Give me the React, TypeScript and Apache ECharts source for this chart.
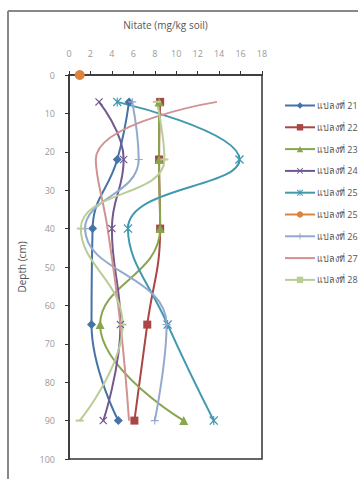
import React, { useEffect, useRef } from "react";
import * as echarts from "echarts";

const depths = [7, 22, 40, 65, 90];
const seriesNames = [
  "แปลงที่ 21",
  "แปลงที่ 22",
  "แปลงที่ 23",
  "แปลงที่ 24",
  "แปลงที่ 25",
  "แปลงที่ 25#b",
  "แปลงที่ 26",
  "แปลงที่ 27",
  "แปลงที่ 28",
];
const plot21 = [5.6, 4.5, 2.2, 2.1, 4.6];
const plot22 = [8.5, 8.4, 8.5, 7.3, 6.1];
const plot23 = [8.4, 8.4, 8.5, 2.9, 10.7];
const plot24 = [2.8, 5.1, 4.0, 4.8, 3.2];
const plot25 = [4.5, 15.9, 5.5, 9.2, 13.5];
const plot25bDepth = [0];
const plot25b = [1.0];
const plot26 = [5.9, 6.5, 1.5, 9.1, 8.0];
const plot27 = [13.8, 2.5, 3.6, 4.8, 5.6];
const plot28 = [8.2, 8.9, 1.1, 5.0, 1.0];
const xTicks = [0, 18, 2];
const yTicks = [0, 100, 10];

const colors = ["#4572A7", "#AA4643", "#89A54E", "#71588F", "#4198AF", "#DB843D", "#93A9CF", "#D19392", "#B9CD96"];

const X_SYM = "path://M0,1L1,0L5,4L9,0L10,1L6,5L10,9L9,10L5,6L1,10L0,9L4,5Z";
const STAR_SYM = "path://M0,1L1,0L5,4L9,0L10,1L6,5L10,9L9,10L5,6L1,10L0,9L4,5ZM4.4,0L5.6,0L5.6,10L4.4,10Z";
const PLUS_SYM = "path://M4.3,0H5.7V4.3H10V5.7H5.7V10H4.3V5.7H0V4.3H4.3Z";

function pairs(xs: number[], ys: number[]) {
  return xs.map((v, i) => [v, ys[i]]);
}

export default function App() {
  const ref = useRef<HTMLDivElement>(null);
  useEffect(() => {
    if (!ref.current) return;
    const chart = echarts.init(ref.current, undefined, { renderer: "svg" });
    const font = "'Open Sans', 'Noto Sans', sans-serif";
    const mk = (i: number, vals: number[], ds: number[], symbol: any, size: any, extra: any = {}) => ({
      name: seriesNames[i],
      type: "line",
      smooth: 0.45,
      data: pairs(vals, ds),
      symbol,
      symbolSize: size,
      showSymbol: symbol !== "none",
      lineStyle: { color: colors[i], width: 2 },
      itemStyle: { color: colors[i] },
      z: 3,
      ...extra,
    });
    chart.setOption({
      animation: false,
      color: colors,
      textStyle: { fontFamily: font },
      grid: { left: 69, top: 75, width: 193, height: 384, show: true, borderColor: "#333", borderWidth: 1.5, backgroundColor: "transparent" },
      xAxis: {
        type: "value",
        position: "top",
        min: xTicks[0],
        max: xTicks[1],
        interval: xTicks[2],
        name: "Nitate (mg/kg soil)",
        nameLocation: "middle",
        nameGap: 45,
        nameTextStyle: { color: "#555", fontSize: 10, fontFamily: font },
        axisLine: { show: true, lineStyle: { color: "#333", width: 1.5 } },
        axisTick: { show: true, inside: false, length: 4, lineStyle: { color: "#333" } },
        axisLabel: { color: "#999", fontSize: 9, margin: 17, fontFamily: font },
        splitLine: { show: false },
      },
      yAxis: {
        type: "value",
        inverse: true,
        min: yTicks[0],
        max: yTicks[1],
        interval: yTicks[2],
        name: "Depth (cm)",
        nameLocation: "middle",
        nameGap: 42,
        nameRotate: 90,
        nameTextStyle: { color: "#555", fontSize: 10, fontFamily: font },
        axisLine: { show: true, lineStyle: { color: "#333", width: 1.5 } },
        axisTick: { show: true, inside: false, length: 4, lineStyle: { color: "#333" } },
        axisLabel: { color: "#999", fontSize: 9, margin: 14, fontFamily: font },
        splitLine: { show: false },
      },
      legend: {
        orient: "vertical",
        left: 279,
        top: 96,
        itemWidth: 30,
        itemHeight: 8,
        itemGap: 12.8,
        textStyle: { color: "#555", fontSize: 9, fontFamily: font, padding: [0, 0, 0, -3] },
        formatter: (n: string) => n.split("#")[0],
        data: seriesNames.map((n, i) => (i === 7 ? { name: n, itemStyle: { opacity: 0 } } : n)),
      },
      graphic: [
        { type: "line", shape: { x1: 8, y1: 11, x2: 358, y2: 11 }, style: { stroke: "#888", lineWidth: 2 } },
        { type: "line", shape: { x1: 8, y1: 11, x2: 8, y2: 479 }, style: { stroke: "#888", lineWidth: 2 } },
      ],
      series: [
        mk(0, plot21, depths, "diamond", 9),
        mk(1, plot22, depths, "rect", 8),
        mk(2, plot23, depths, "triangle", 9),
        mk(3, plot24, depths, X_SYM, 8),
        mk(4, plot25, depths, STAR_SYM, 9),
        mk(5, plot25b, plot25bDepth, "circle", 10),
        mk(6, plot26, depths, PLUS_SYM, 8),
        mk(7, plot27, depths, "none", 0),
        mk(8, plot28, depths, "rect", [8, 2]),
      ],
    });
    return () => chart.dispose();
  }, []);
  return (
    <div
      ref={ref}
      style={{ position: "fixed", left: 0, top: 0, width: 358, height: 479, background: "#fff" }}
    />
  );
}
